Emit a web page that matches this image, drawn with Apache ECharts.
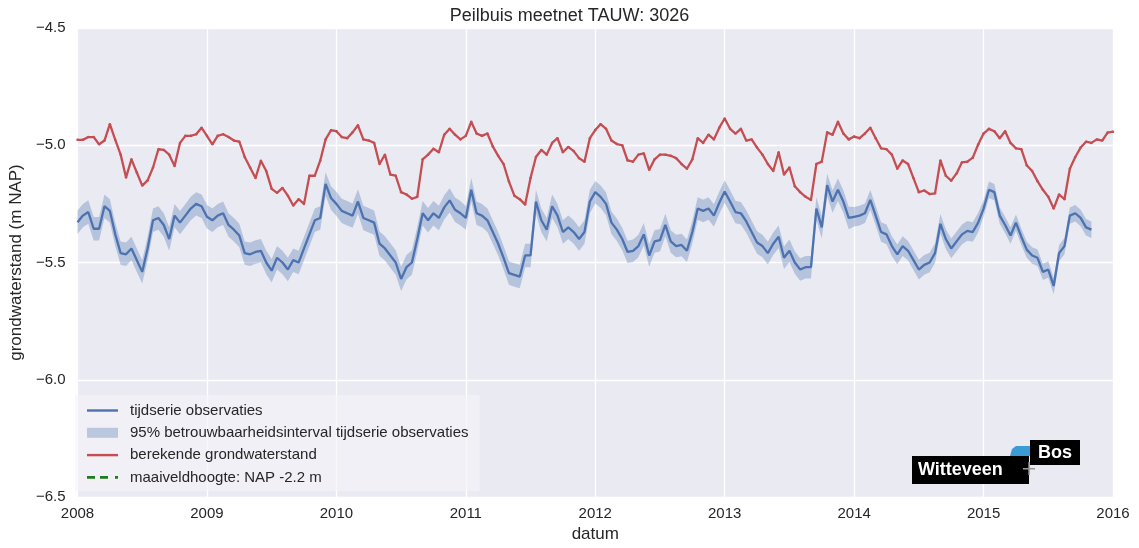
<!DOCTYPE html>
<html><head><meta charset="utf-8">
<script src="https://cdn.jsdelivr.net/npm/echarts@6/dist/echarts.min.js"></script>
<style>html,body{margin:0;padding:0;background:#fff}#c{width:1139px;height:548px}</style>
</head><body><div id="c"></div>
<script>
// time axis: points every half month starting 2008.0
const startYear = 2008;
const stepsPerYear = 24;
const xTicks = [2008, 2009, 2010, 2011, 2012, 2013, 2014, 2015, 2016];
const yTicks = [-6.5, -6.0, -5.5, -5.0, -4.5];

// berekende grondwaterstand (m NAP)
const berekend = [
 -4.977,-4.977,-4.965,-4.965,-4.996,-4.98,-4.91,-4.977,-5.04,-5.137,-5.06,-5.116,-5.172,-5.15,-5.095,-5.017,-5.02,-5.04,-5.088,-4.99,-4.96,-4.96,-4.953,-4.925,
 -4.96,-4.996,-4.96,-4.953,-4.965,-4.98,-4.985,-5.05,-5.095,-5.14,-5.066,-5.11,-5.186,-5.203,-5.182,-5.215,-5.257,-5.23,-5.25,-5.13,-5.13,-5.066,-4.975,-4.936,
 -4.94,-4.965,-4.97,-4.945,-4.915,-4.975,-4.98,-4.99,-5.08,-5.04,-5.125,-5.13,-5.20,-5.21,-5.228,-5.22,-5.06,-5.04,-5.015,-5.03,-4.955,-4.93,-4.955,-4.975,
 -4.96,-4.90,-4.95,-4.96,-4.95,-5.005,-5.045,-5.08,-5.155,-5.215,-5.23,-5.253,-5.14,-5.05,-5.02,-5.04,-4.99,-4.97,-5.03,-5.007,-5.025,-5.055,-5.07,-4.97,
 -4.935,-4.91,-4.93,-4.98,-4.995,-5.0,-5.065,-5.07,-5.04,-5.035,-5.105,-5.06,-5.04,-5.04,-5.045,-5.055,-5.08,-5.10,-5.06,-4.97,-4.99,-4.955,-4.975,-4.925,
 -4.886,-4.93,-4.95,-4.93,-4.98,-4.975,-5.01,-5.04,-5.08,-5.11,-5.03,-5.125,-5.095,-5.175,-5.20,-5.22,-5.233,-5.08,-5.07,-4.945,-4.955,-4.90,-4.95,-4.975,
 -4.963,-4.97,-4.95,-4.925,-4.97,-5.013,-5.017,-5.04,-5.10,-5.065,-5.08,-5.14,-5.20,-5.193,-5.208,-5.205,-5.065,-5.13,-5.151,-5.12,-5.073,-5.07,-5.053,-4.997,
 -4.95,-4.93,-4.94,-4.97,-4.94,-4.99,-5.013,-5.017,-5.085,-5.11,-5.153,-5.19,-5.22,-5.27,-5.21,-5.23,-5.10,-5.05,-5.01,-4.985,-4.99,-4.975,-4.98,-4.946,
 -4.942
];

// tijdserie observaties (m NAP)
const observaties = [
 -5.328,-5.30,-5.285,-5.356,-5.356,-5.26,-5.28,-5.38,-5.46,-5.465,-5.44,-5.49,-5.54,-5.44,-5.32,-5.31,-5.34,-5.40,-5.30,-5.33,-5.30,-5.27,-5.25,-5.26,
 -5.305,-5.32,-5.30,-5.29,-5.34,-5.36,-5.385,-5.46,-5.465,-5.455,-5.45,-5.50,-5.535,-5.48,-5.50,-5.53,-5.49,-5.50,-5.44,-5.38,-5.32,-5.31,-5.165,-5.225,
 -5.25,-5.28,-5.29,-5.30,-5.24,-5.31,-5.32,-5.33,-5.42,-5.44,-5.47,-5.50,-5.57,-5.52,-5.50,-5.40,-5.29,-5.32,-5.29,-5.31,-5.265,-5.235,-5.275,-5.29,
 -5.31,-5.19,-5.29,-5.30,-5.32,-5.37,-5.42,-5.48,-5.545,-5.553,-5.56,-5.47,-5.47,-5.24,-5.32,-5.36,-5.26,-5.30,-5.37,-5.35,-5.37,-5.40,-5.37,-5.24,
 -5.20,-5.22,-5.25,-5.33,-5.36,-5.40,-5.455,-5.45,-5.43,-5.38,-5.47,-5.41,-5.405,-5.34,-5.41,-5.43,-5.425,-5.45,-5.37,-5.27,-5.28,-5.27,-5.30,-5.245,
 -5.197,-5.24,-5.285,-5.29,-5.325,-5.37,-5.415,-5.43,-5.46,-5.42,-5.39,-5.48,-5.45,-5.50,-5.53,-5.52,-5.52,-5.27,-5.35,-5.17,-5.24,-5.19,-5.24,-5.31,
 -5.305,-5.30,-5.29,-5.233,-5.30,-5.37,-5.38,-5.43,-5.465,-5.43,-5.45,-5.49,-5.53,-5.51,-5.50,-5.46,-5.335,-5.40,-5.44,-5.41,-5.38,-5.365,-5.37,-5.33,
 -5.27,-5.19,-5.20,-5.30,-5.34,-5.385,-5.33,-5.39,-5.445,-5.47,-5.48,-5.54,-5.53,-5.60,-5.46,-5.43,-5.30,-5.29,-5.31,-5.35,-5.36
];

// half width of 95% interval per year (m)
const ciHalfWidthPerYear = [0.05, 0.05, 0.052, 0.05, 0.048, 0.048, 0.042, 0.035];

// maaiveldhoogte (m NAP)
const maaiveld = -2.2;

const xOf = i => startYear + i / stepsPerYear;
const redData = berekend.map((v, i) => [xOf(i), v]);
const blueData = observaties.map((v, i) => [xOf(i), v]);
const bandData = observaties.map((v, i) => {
  const h = ciHalfWidthPerYear[Math.floor(i / stepsPerYear)];
  return [xOf(i), v - h, v + h];
});

const txt = '#262626';
const font = 'Liberation Sans, Arial, sans-serif';
const fmtY = v => (v < 0 ? '\u2212' : '') + Math.abs(v).toFixed(1);
const blue = '#4C72B0', red = '#C44E52', green = '#1E7B1E';
const bandColor = 'rgba(76,114,176,0.33)';

const chart = echarts.init(document.getElementById('c'), null, {renderer: 'canvas'});
chart.setOption({
  animation: false,
  backgroundColor: '#ffffff',
  textStyle: {fontFamily: font, color: txt},
  title: {text: 'Peilbuis meetnet TAUW: 3026', left: 'center', top: 2,
    textStyle: {fontSize: 18, fontWeight: 'normal', color: txt, fontFamily: font}},
  grid: {left: 74, right: 26, top: 28, bottom: 51, show: true, backgroundColor: '#EAEAF2', borderWidth: 0},
  xAxis: {type: 'value', min: xTicks[0], max: xTicks[xTicks.length - 1], interval: 1,
    name: 'datum', nameLocation: 'middle', nameGap: 29,
    nameTextStyle: {fontSize: 17, color: txt, fontFamily: font},
    axisLine: {show: false}, axisTick: {show: false},
    axisLabel: {fontSize: 15, color: txt, margin: 9, formatter: v => String(v)},
    splitLine: {show: true, lineStyle: {color: '#ffffff', width: 1.3}}},
  yAxis: {type: 'value', min: yTicks[0], max: yTicks[yTicks.length - 1], interval: 0.5,
    name: 'grondwaterstand (m NAP)', nameLocation: 'middle', nameGap: 47, nameRotate: 90,
    nameTextStyle: {fontSize: 17, color: txt, fontFamily: font},
    axisLine: {show: false}, axisTick: {show: false},
    axisLabel: {fontSize: 15, color: txt, margin: 12, formatter: fmtY},
    splitLine: {show: true, lineStyle: {color: '#ffffff', width: 1.3}}},
  legend: {
    orient: 'vertical', left: 75, top: 395, itemWidth: 31, itemHeight: 10, itemGap: 7.3,
    padding: [8, 11, 6, 12],
    backgroundColor: 'rgba(243,243,248,0.6)',
    symbolKeepAspect: true,
    textStyle: {fontSize: 15, color: txt, fontFamily: font, padding: [0, 0, 0, 7]},
    data: [
      {name: 'tijdserie observaties', icon: 'path://M0,0 H31 V2.4 H0 Z'},
      {name: '95% betrouwbaarheidsinterval tijdserie observaties', icon: 'rect'},
      {name: 'berekende grondwaterstand', icon: 'path://M0,0 H31 V2.4 H0 Z'},
      {name: 'maaiveldhoogte: NAP -2.2 m', icon: 'path://M0,0 H8 V2.6 H0 Z M13,0 H21 V2.6 H13 Z M28,0 H31 V2.6 H28 Z'}
    ]
  },
  series: [
    {name: '95% betrouwbaarheidsinterval tijdserie observaties', type: 'custom',
      data: bandData, encode: {x: 0, y: [1, 2]},
      itemStyle: {color: bandColor}, z: 1, silent: true,
      renderItem: (params, api) => {
        if (params.dataIndex !== 0) return null;
        const top = bandData.map(d => api.coord([d[0], d[2]]));
        const bot = bandData.map(d => api.coord([d[0], d[1]])).reverse();
        return {type: 'polygon', shape: {points: top.concat(bot)}, style: {fill: bandColor}};
      }},
    {name: 'tijdserie observaties', type: 'line', data: blueData, symbol: 'none',
      lineStyle: {color: blue, width: 2.3}, itemStyle: {color: blue}, z: 3},
    {name: 'berekende grondwaterstand', type: 'line', data: redData, symbol: 'circle', symbolSize: 2.5,
      showSymbol: true,
      lineStyle: {color: red, width: 2.3}, itemStyle: {color: red}, z: 4},
    {name: 'maaiveldhoogte: NAP -2.2 m', type: 'line', data: [[xTicks[0], maaiveld], [xTicks[xTicks.length - 1], maaiveld]],
      symbol: 'none', clip: true,
      lineStyle: {color: green, width: 2, type: [6, 5]}, itemStyle: {color: green}, z: 2}
  ],
  graphic: [
    {type: 'polygon', shape: {points: [[1012, 449], [1016, 446], [1032, 446], [1032, 456], [1010, 456]]}, style: {fill: '#3B9BD5'}, z: 10},
    {type: 'rect', shape: {x: 1030, y: 440, width: 50, height: 25}, style: {fill: '#000'}, z: 11},
    {type: 'text', x: 1055, y: 453, style: {text: 'Bos', fill: '#fff', font: 'bold 18px Liberation Sans, Arial, sans-serif', align: 'center', verticalAlign: 'middle'}, z: 12},
    {type: 'rect', shape: {x: 912, y: 456, width: 117, height: 28}, style: {fill: '#000'}, z: 11},
    {type: 'text', x: 918, y: 470, style: {text: 'Witteveen', fill: '#fff', font: 'bold 18px Liberation Sans, Arial, sans-serif', align: 'left', verticalAlign: 'middle'}, z: 12},
    {type: 'rect', shape: {x: 1023, y: 468, width: 12, height: 1.5}, style: {fill: '#999'}, z: 12},
    {type: 'rect', shape: {x: 1028.3, y: 462, width: 1.5, height: 13}, style: {fill: '#999'}, z: 12}
  ]
});
</script></body></html>
